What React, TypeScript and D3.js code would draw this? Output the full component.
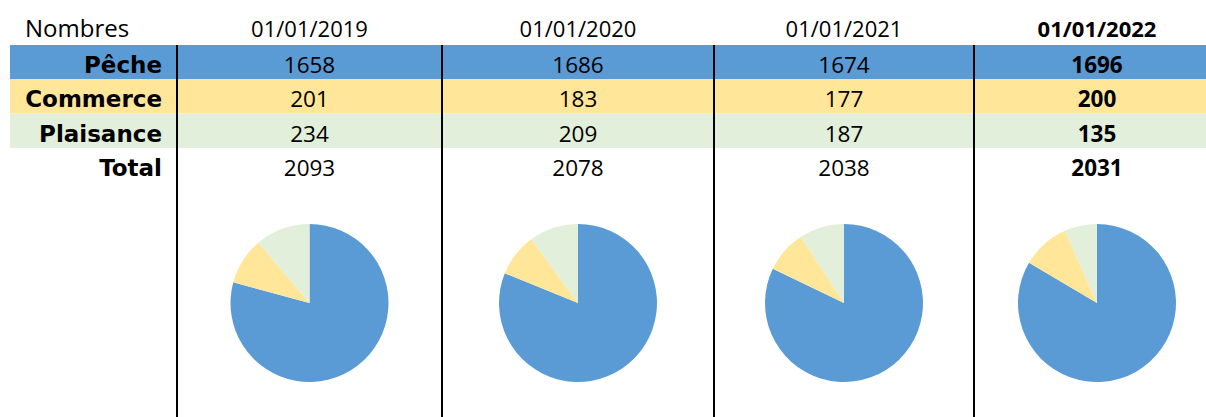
import React from "react";
import * as d3 from "d3";

const dates = ["01/01/2019", "01/01/2020", "01/01/2021", "01/01/2022"];
const categories = ["Pêche", "Commerce", "Plaisance"];
const peche = [1658, 1686, 1674, 1696];
const commerce = [201, 183, 177, 200];
const plaisance = [234, 209, 187, 135];
const totals = [2093, 2078, 2038, 2031];
const headerLabel = "Nombres";
const totalLabel = "Total";

const W = 1206;
const H = 417;
const colors = ["#5B9BD5", "#FFE699", "#E2EFDA"];
const colEdges = [177, 442, 714, 974, 1220];
const rowTop = 45;
const rowH = 34.3;
const pieCy = 303;
const pieR = 79;

const regFont = "'Open Sans', sans-serif";
const boldLabelFont = "'DejaVu Sans', sans-serif";

export default function App() {
  const series = [peche, commerce, plaisance];
  const rows = [...categories, totalLabel];
  const rowScale = d3
    .scaleBand<string>()
    .domain(rows)
    .range([rowTop, rowTop + rowH * 4])
    .padding(0);
  const colCenter = (i: number) => (colEdges[i] + colEdges[i + 1]) / 2;
  const pie = d3.pie<number>().sort(null).value((d) => d);
  const arc = d3.arc<d3.PieArcDatum<number>>().innerRadius(0).outerRadius(pieR);

  return (
    <svg width={W} height={H} style={{ position: "absolute", left: 0, top: 0, background: "#fff" }}>
      <rect x={0} y={0} width={W} height={H} fill="#fff" />
      {categories.map((c, i) => (
        <rect key={c} x={10} y={rowScale(c)!} width={W - 10} height={rowScale.bandwidth()} fill={colors[i]} />
      ))}
      <text x={25} y={37} fontFamily={regFont} fontSize={24} fill="#000">
        {headerLabel}
      </text>
      {dates.map((d, j) => (
        <text
          key={d}
          x={colCenter(j)}
          y={37}
          textAnchor="middle"
          fontFamily={regFont}
          fontSize={22}
          fontWeight={j === 3 ? 700 : 400}
          fill="#000"
        >
          {d}
        </text>
      ))}
      {rows.map((c) => (
        <text
          key={c}
          x={162}
          y={rowScale(c)! + 28}
          textAnchor="end"
          fontFamily={boldLabelFont}
          fontWeight={700}
          fontSize={23}
          fill="#000"
        >
          {c}
        </text>
      ))}
      {[...series, totals].map((vals, r) =>
        vals.map((v, j) => (
          <text
            key={r + "-" + j}
            x={colCenter(j)}
            y={rowScale(rows[r])! + 28}
            textAnchor="middle"
            fontFamily={regFont}
            fontSize={22.5}
            fontWeight={j === 3 ? 700 : 400}
            fill="#000"
          >
            {v}
          </text>
        ))
      )}
      {colEdges.slice(0, 4).map((x, i) => (
        <line key={i} x1={x} x2={x} y1={rowTop} y2={H} stroke="#000" strokeWidth={2} />
      ))}
      {dates.map((d, j) => {
        const arcs = pie(series.map((s) => s[j]));
        return (
          <g key={d} transform={`translate(${colCenter(j)},${pieCy})`}>
            {arcs.map((a, i) => (
              <path key={i} d={arc(a)!} fill={colors[i]} />
            ))}
          </g>
        );
      })}
    </svg>
  );
}
